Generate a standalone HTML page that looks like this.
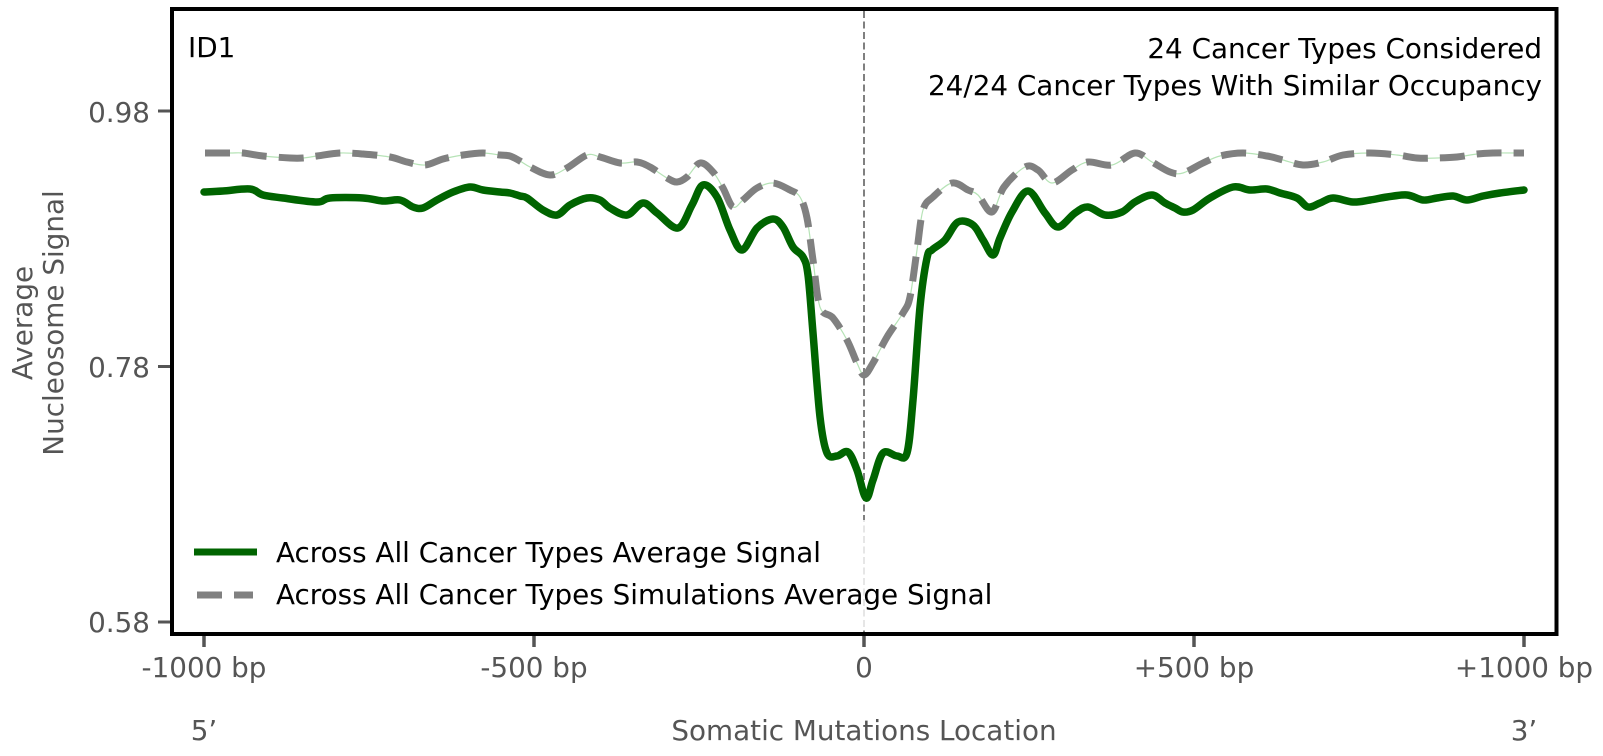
<!DOCTYPE html>
<html>
<head>
<meta charset="utf-8">
<style>
  html, body { margin: 0; padding: 0; background: #ffffff; }
  svg { display: block; }
  text { font-family: "DejaVu Sans", "Liberation Sans", sans-serif; }
</style>
</head>
<body>
<svg width="1603" height="756" viewBox="0 0 1603 756" xmlns="http://www.w3.org/2000/svg">
  <rect x="0" y="0" width="1603" height="756" fill="#ffffff"/>

  <!-- vertical center dashed line -->
  <line x1="864" y1="11" x2="864" y2="632" stroke="#808080" stroke-width="2" stroke-dasharray="7,3.5"/>

  <!-- simulations thin underlay -->
  <polyline class="smooth" fill="none" stroke="#b6e3b6" stroke-width="1.2" stroke-linejoin="round"
    points="205,153 230,153 243,153 263,156 290,158 303,158 317,156 340,153 363,154 390,157 407,162 425,165 443,159 463,155 483,153 500,155 510,156 520,161 530,167 550,175 567,168 587,155 600,157 620,163 637,162 650,167 667,178 677,182 687,177 700,163 713,172 723,188 733,207 743,200 757,188 773,183 790,190 800,197 807,218 813,260 820,307 833,318 847,340 857,363 864,375 873,363 887,337 903,313 910,297 917,250 923,210 933,197 952,183 968,190 978,195 992,212 1004,187 1025,167 1038,170 1052,183 1072,170 1088,162 1112,165 1135,153 1152,162 1170,172 1183,173 1203,163 1220,156 1243,153 1267,156 1283,160 1303,165 1323,162 1343,155 1370,153 1397,155 1417,158 1437,158 1457,157 1477,154 1493,153 1524,153"/>
  <!-- simulations dashed gray -->
  <polyline class="smooth" fill="none" stroke="#808080" stroke-width="7" stroke-linejoin="round" stroke-dasharray="25,12"
    points="205,153 230,153 243,153 263,156 290,158 303,158 317,156 340,153 363,154 390,157 407,162 425,165 443,159 463,155 483,153 500,155 510,156 520,161 530,167 550,175 567,168 587,155 600,157 620,163 637,162 650,167 667,178 677,182 687,177 700,163 713,172 723,188 733,207 743,200 757,188 773,183 790,190 800,197 807,218 813,260 820,307 833,318 847,340 857,363 864,375 873,363 887,337 903,313 910,297 917,250 923,210 933,197 952,183 968,190 978,195 992,212 1004,187 1025,167 1038,170 1052,183 1072,170 1088,162 1112,165 1135,153 1152,162 1170,172 1183,173 1203,163 1220,156 1243,153 1267,156 1283,160 1303,165 1323,162 1343,155 1370,153 1397,155 1417,158 1437,158 1457,157 1477,154 1493,153 1524,153"/>

  <!-- real data green -->
  <polyline class="smooth" fill="none" stroke="#006400" stroke-width="7.5" stroke-linejoin="round" stroke-linecap="round"
    points="204,192 223,191 250,189 263,195 283,198 317,202 330,198 363,198 383,201 400,200 413,207 423,208 437,200 453,192 470,187 483,190 500,192 510,193 520,196 527,198 543,210 557,215 570,205 587,198 600,200 610,208 627,215 643,203 657,213 678,228 692,205 703,185 717,197 730,230 742,250 757,228 773,219 783,227 793,247 803,257 808,275 813,333 820,417 827,453 837,456 848,452 857,470 866,498 873,480 883,453 897,456 907,453 913,400 920,307 927,258 932,250 945,240 958,222 973,225 983,240 993,255 1000,238 1012,212 1028,191 1045,213 1058,227 1075,213 1088,207 1105,215 1122,212 1135,202 1152,195 1165,203 1175,208 1183,212 1193,210 1210,198 1233,187 1250,190 1267,189 1280,193 1297,198 1308,207 1320,203 1333,198 1353,202 1370,200 1387,197 1407,195 1423,200 1437,198 1453,196 1467,200 1483,196 1500,193 1524,190"/>

  <!-- legend background (semi transparent) -->
  <rect x="182" y="520" width="830" height="108" fill="#ffffff" fill-opacity="0.8"/>

  <!-- legend -->
  <line x1="194" y1="552" x2="257" y2="552" stroke="#006400" stroke-width="7"/>
  <line x1="197" y1="595" x2="222" y2="595" stroke="#808080" stroke-width="7"/>
  <line x1="234" y1="595" x2="253" y2="595" stroke="#808080" stroke-width="7"/>
  <text x="276" y="562" font-size="27.8" fill="#000000">Across All Cancer Types Average Signal</text>
  <text x="276" y="604" font-size="27.8" fill="#000000">Across All Cancer Types Simulations Average Signal</text>

  <!-- axes frame -->
  <rect x="172" y="9" width="1384.5" height="625" fill="none" stroke="#000000" stroke-width="4"/>

  <!-- y ticks -->
  <g stroke="#555555" stroke-width="3">
    <line x1="158" y1="111" x2="170" y2="111"/>
    <line x1="158" y1="366.5" x2="170" y2="366.5"/>
    <line x1="158" y1="622" x2="170" y2="622"/>
  </g>
  <g font-size="27.8" fill="#555555" text-anchor="end">
    <text x="150" y="122">0.98</text>
    <text x="150" y="377">0.78</text>
    <text x="150" y="632">0.58</text>
  </g>

  <!-- x ticks -->
  <g stroke="#555555" stroke-width="3.5">
    <line x1="204" y1="636" x2="204" y2="647"/>
    <line x1="534" y1="636" x2="534" y2="647"/>
    <line x1="864" y1="636" x2="864" y2="647"/>
    <line x1="1194" y1="636" x2="1194" y2="647"/>
    <line x1="1524" y1="636" x2="1524" y2="647"/>
  </g>
  <g font-size="27.8" fill="#555555" text-anchor="middle">
    <text x="204" y="677">-1000 bp</text>
    <text x="534" y="677">-500 bp</text>
    <text x="864" y="677">0</text>
    <text x="1194" y="677">+500 bp</text>
    <text x="1524" y="677">+1000 bp</text>
    <text x="204" y="740">5’</text>
    <text x="864" y="740">Somatic Mutations Location</text>
    <text x="1524" y="740">3’</text>
  </g>

  <!-- y axis label -->
  <g font-size="27.8" fill="#555555" text-anchor="middle">
    <text transform="translate(32,323) rotate(-90)">Average</text>
    <text transform="translate(63,323) rotate(-90)">Nucleosome Signal</text>
  </g>

  <!-- annotations -->
  <text x="188" y="57" font-size="27.8" fill="#000000">ID1</text>
  <text x="1542" y="58" font-size="27.8" fill="#000000" text-anchor="end">24 Cancer Types Considered</text>
  <text x="1542" y="95" font-size="27.8" fill="#000000" text-anchor="end">24/24 Cancer Types With Similar Occupancy</text>
</svg>
<script>
(function(){
  var NS = "http://www.w3.org/2000/svg";
  var pls = document.querySelectorAll("polyline.smooth");
  for (var k = 0; k < pls.length; k++) {
    var pl = pls[k];
    var raw = pl.getAttribute("points").trim().split(/\s+/);
    var p = raw.map(function(s){ var a = s.split(","); return [parseFloat(a[0]), parseFloat(a[1])]; });
    var d = "M" + p[0][0] + "," + p[0][1];
    for (var i = 0; i < p.length - 1; i++) {
      var p0 = p[i > 0 ? i - 1 : i], p1 = p[i], p2 = p[i + 1], p3 = p[i + 2 < p.length ? i + 2 : i + 1];
      var t = 0.5 / 3;
      var c1x = p1[0] + (p2[0] - p0[0]) * t, c1y = p1[1] + (p2[1] - p0[1]) * t;
      var c2x = p2[0] - (p3[0] - p1[0]) * t, c2y = p2[1] - (p3[1] - p1[1]) * t;
      d += " C" + c1x.toFixed(2) + "," + c1y.toFixed(2) + " " + c2x.toFixed(2) + "," + c2y.toFixed(2) + " " + p2[0] + "," + p2[1];
    }
    var path = document.createElementNS(NS, "path");
    var attrs = ["fill","stroke","stroke-width","stroke-linejoin","stroke-linecap","stroke-dasharray"];
    for (var j = 0; j < attrs.length; j++) {
      var v = pl.getAttribute(attrs[j]);
      if (v !== null) path.setAttribute(attrs[j], v);
    }
    path.setAttribute("d", d);
    pl.parentNode.replaceChild(path, pl);
  }
})();
</script>
</body>
</html>
